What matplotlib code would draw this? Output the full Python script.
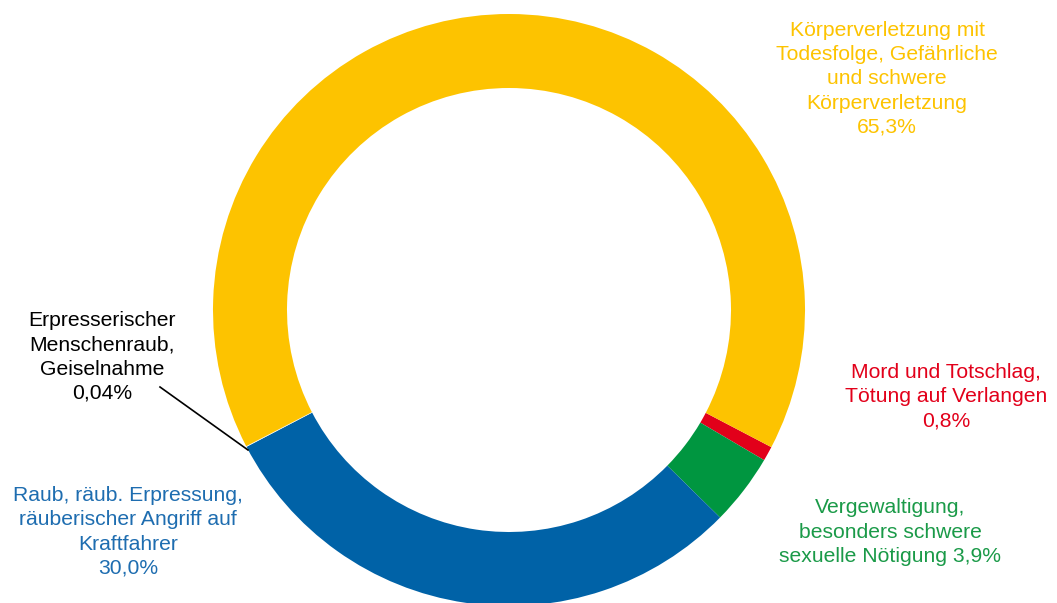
import matplotlib
matplotlib.use('Agg')
import matplotlib.pyplot as plt

plt.rcParams['font.family'] = ['Liberation Sans', 'DejaVu Sans']

# slices in clockwise order, starting with the small red one
names = ['Mord und Totschlag,\nTötung auf Verlangen',
         'Vergewaltigung,\nbesonders schwere\nsexuelle Nötigung',
         'Raub, räub. Erpressung,\nräuberischer Angriff auf\nKraftfahrer',
         'Erpresserischer\nMenschenraub,\nGeiselnahme',
         'Körperverletzung mit\nTodesfolge, Gefährliche\nund schwere\nKörperverletzung']
shares = [0.8, 3.9, 30.0, 0.04, 65.3]
decimals = [1, 1, 1, 2, 1]
slice_colors = ['#E2001A', '#009640', '#0062A7', '#F4F4F4', '#FDC300']
text_colors = ['#E2001A', '#1A9A48', '#1E6DB0', '#000000', '#FDC300']

W, H = 1057, 603
cx, cy, R = 509, 310, 296  # ring centre / radius in pixels

fig = plt.figure(figsize=(W / 100, H / 100), dpi=100)
ax = fig.add_axes([(cx - R) / W, (H - cy - R) / H, 2 * R / W, 2 * R / H])
ax.pie(shares, colors=slice_colors, startangle=-27.6, counterclock=False,
       radius=1.0, wedgeprops=dict(width=0.25, edgecolor='none'))
ax.set_xlim(-1, 1)
ax.set_ylim(-1, 1)
ax.set_aspect('equal')
ax.axis('off')


def pct(v, d):
    return ('{:.%df}' % d).format(v).replace('.', ',') + '%'


# label centres in pixels
label_xy = [(946, 397), (890, 532), (128, 532), (102, 357), (887, 79)]
for i in range(len(names)):
    txt = names[i] + ('\n' if i != 1 else ' ') + pct(shares[i], decimals[i])
    x, y = label_xy[i]
    fig.text(x / W, 1 - y / H, txt, ha='center', va='center',
             multialignment='center', fontsize=15.2, color=text_colors[i],
             linespacing=1.34)

# leader line for the tiny slice
fig.add_artist(plt.Line2D([160 / W, 248 / W], [1 - 387 / H, 1 - 450 / H],
                          color='black', lw=1.2))

fig.savefig('out.png', dpi=100)
